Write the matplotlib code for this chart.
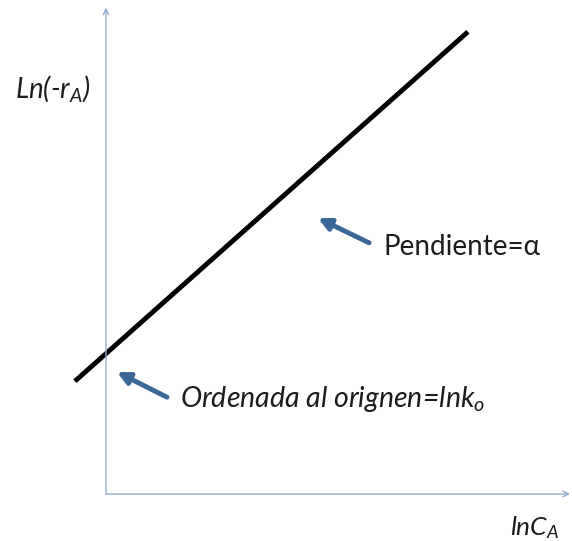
import matplotlib.pyplot as plt

plt.rcParams['font.family'] = ['Lato', 'DejaVu Sans']
plt.rcParams['mathtext.fontset'] = 'custom'
plt.rcParams['mathtext.rm'] = 'Lato'
plt.rcParams['mathtext.it'] = 'Lato:italic'

# line ln(-rA) vs lnCA, arbitrary units
ln_ca = [-0.67, 7.80]
ln_ra = [2.33, 9.55]

axis_color = '#8FA9CF'
arrow_color = '#3B6797'
text_color = '#1c1c1c'

fig = plt.figure(figsize=(5.72, 5.41), dpi=100)
ax = fig.add_axes([0, 0, 1, 1])
ax.set_xlim(-2.284, 10.043)
ax.set_ylim(-0.971, 10.207)
ax.axis('off')

# axes with arrow heads
ax.annotate('', xy=(0, 10.05), xytext=(0, 0),
            arrowprops=dict(arrowstyle='->', color=axis_color, lw=1, shrinkA=0, shrinkB=0))
ax.annotate('', xy=(10.0, 0), xytext=(0, 0),
            arrowprops=dict(arrowstyle='->', color=axis_color, lw=1, shrinkA=0, shrinkB=0))

ax.plot(ln_ca, ln_ra, color='black', lw=3.5, solid_capstyle='butt')

# pointers
ax.annotate('', xy=(4.57, 5.70), xytext=(5.67, 5.19),
            arrowprops=dict(arrowstyle='-|>', color=arrow_color, lw=3.5,
                            mutation_scale=18, shrinkA=0, shrinkB=0))
ax.annotate('', xy=(0.237, 2.52), xytext=(1.315, 2.00),
            arrowprops=dict(arrowstyle='-|>', color=arrow_color, lw=3.5,
                            mutation_scale=18, shrinkA=0, shrinkB=0))

ax.text(5.98, 5.10, 'Pendiente=α', fontsize=20, color=text_color, va='center', ha='left')
ax.text(1.6, 1.97, 'Ordenada al orignen=lnk$_o$', fontsize=20.5, color=text_color,
        style='italic', va='center', ha='left')
ax.text(-1.95, 8.38, 'Ln(-r$_A$)', fontsize=20, color=text_color, style='italic',
        va='center', ha='left')
ax.text(8.7, -0.70, 'lnC$_A$', fontsize=19, color=text_color, style='italic',
        va='center', ha='left')

fig.savefig('out.png', dpi=100)
